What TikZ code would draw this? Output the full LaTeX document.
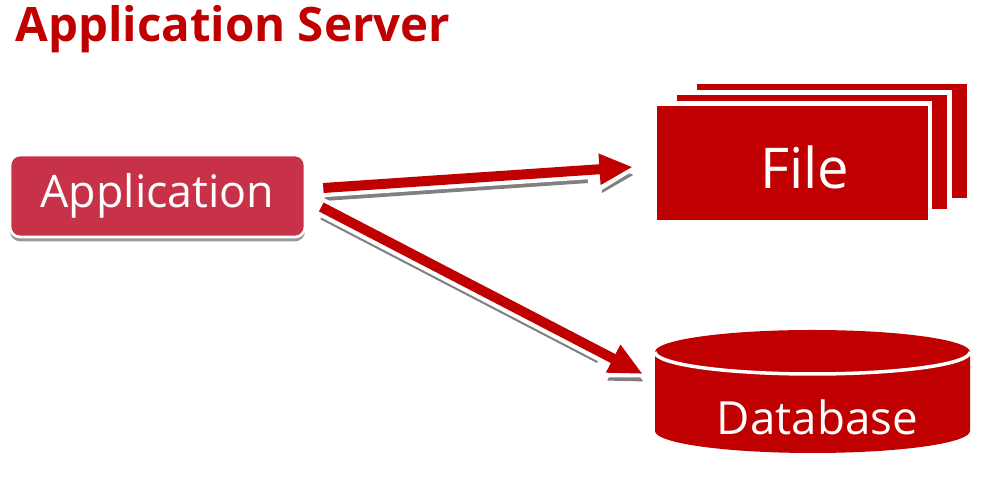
\documentclass[tikz,border=0pt]{standalone}
\usepackage{fontspec}
\setmainfont{Open Sans}
\usepackage{tikz}
\usetikzlibrary{arrows.meta, calc}

\definecolor{fileRed}{RGB}{192,0,0}
\definecolor{appRed}{RGB}{200,50,72}
\definecolor{shadowGray}{RGB}{128,128,128}

\begin{document}
\begin{tikzpicture}[x=0.02cm, y=0.02cm,
    card/.style={rectangle, fill=fileRed, draw=white, line width=2.5pt,
        minimum width=5.5cm, minimum height=2.38cm},
    appbox/.style={rectangle, rounded corners=5.7pt, fill=appRed, draw=white,
        line width=1.5pt, text=white, font=\fontsize{25.5}{30}\selectfont,
        minimum width=5.9cm, minimum height=1.64cm,
        preaction={fill=shadowGray!80, transform canvas={yshift=-2.5pt}}},
    arrowshadow/.style={shadowGray, line width=5.7pt,
        -{Triangle[length=19pt, width=16.5pt]},
        transform canvas={shift={(0.8pt,-4.5pt)}}},
    arrowhalo/.style={white, line width=10.5pt, shorten >=-5pt,
        -{Triangle[length=31pt, width=29pt]}},
    arrowbody/.style={fileRed, line width=5.7pt,
        -{Triangle[length=19pt, width=16.5pt]}}
]
    \useasboundingbox (0,0) rectangle (998,479);

    % title
    \node[anchor=base west, inner sep=0pt, text=fileRed,
        font=\bfseries\fontsize{27}{32}\selectfont] (title) at (15,437) {Application Server};

    % application
    \node[appbox] (app) at (157.5,283) {Application};

    % stack of files
    \node[card] (file3) at (832,338) {};
    \node[card] (file2) at (812,327) {};
    \node[card] (file) at (792.5,316) {};
    \node[text=white, font=\fontsize{32}{36}\selectfont] (filetext) at (805,312) {File};

    % database cylinder
    \fill[fileRed] (655,127) -- (655,48)
        arc[start angle=180, end angle=360, x radius=157.5, y radius=22] -- (970,127)
        arc[start angle=0, end angle=180, x radius=157.5, y radius=22] -- cycle;
    \draw[white, line width=2pt] (655,127)
        arc[start angle=180, end angle=360, x radius=157.5, y radius=22];
    \node[text=white, font=\fontsize{26}{30}\selectfont] (db) at (817.5,62) {Database};

    % arrows: shadow, white halo, then the red body
    \foreach \look in {arrowshadow, arrowhalo, arrowbody} {
        \draw[\look] ([shift={(17,8)}]app.east) -- ([shift={(-20,-4)}]file.west);
        \draw[\look] ([shift={(15,-11)}]app.east) -- ([shift={(-68,43)}]db.west);
    }
\end{tikzpicture}
\end{document}
